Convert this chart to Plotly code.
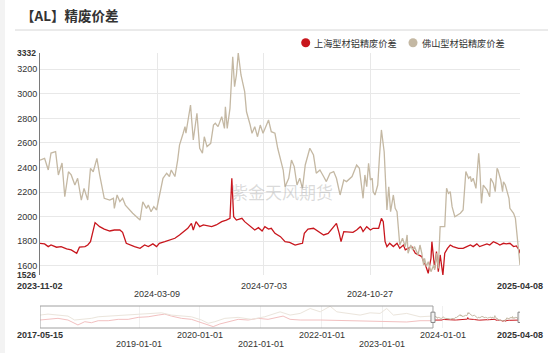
import plotly.graph_objects as go

# ---------------- data ----------------
sh_dates = ["2023-11-02","2023-11-07","2023-11-11","2023-11-14","2023-11-20","2023-11-25","2023-12-01","2023-12-06","2023-12-12","2023-12-15",
"2023-12-21","2023-12-24","2023-12-27","2023-12-30","2024-01-01","2024-01-06","2024-01-11","2024-01-17","2024-01-22","2024-01-28",
"2024-01-31","2024-02-04","2024-02-08","2024-02-13","2024-02-19","2024-02-24","2024-02-28","2024-03-04","2024-03-08","2024-03-11",
"2024-03-17","2024-03-22","2024-03-28","2024-04-02","2024-04-08","2024-04-11","2024-04-15","2024-04-17","2024-04-20","2024-04-24",
"2024-04-28","2024-05-02","2024-05-07","2024-05-12","2024-05-18","2024-05-23","2024-05-27","2024-05-29","2024-05-31","2024-06-03",
"2024-06-09","2024-06-12","2024-06-16","2024-06-20","2024-06-23","2024-06-27","2024-07-01","2024-07-04","2024-07-08","2024-07-11",
"2024-07-15","2024-07-21","2024-07-26","2024-07-31","2024-08-06","2024-08-11","2024-08-14","2024-08-16","2024-08-20","2024-08-26",
"2024-08-31","2024-09-06","2024-09-11","2024-09-17","2024-09-20","2024-09-23","2024-09-25","2024-09-28","2024-10-03","2024-10-08",
"2024-10-12","2024-10-16","2024-10-17","2024-10-19","2024-10-23","2024-10-27","2024-10-30","2024-11-05","2024-11-08","2024-11-10",
"2024-11-12","2024-11-14","2024-11-17","2024-11-21","2024-11-25","2024-11-28","2024-12-02","2024-12-04","2024-12-07","2024-12-11",
"2024-12-15","2024-12-18","2024-12-22","2024-12-24","2024-12-26","2024-12-29","2025-01-01","2025-01-02","2025-01-05","2025-01-07",
"2025-01-09","2025-01-11","2025-01-13","2025-01-14","2025-01-16","2025-01-19","2025-01-22","2025-01-25","2025-01-31","2025-02-05",
"2025-02-09","2025-02-13","2025-02-16","2025-02-20","2025-02-23","2025-02-27","2025-03-03","2025-03-06","2025-03-10","2025-03-14",
"2025-03-17","2025-03-21","2025-03-24","2025-03-28","2025-04-01","2025-04-04","2025-04-07","2025-04-08"]
sh_vals = [1784,1779,1757,1770,1752,1757,1738,1730,1703,1752,
1757,1770,1797,1879,1952,1919,1900,1884,1892,1892,
1873,1784,1770,1757,1743,1770,1757,1779,1757,1784,
1797,1811,1825,1852,1892,1906,1946,1892,1960,1919,
1933,1928,1919,1933,1960,1973,1987,2313,2000,1973,
1987,1960,1933,1911,1892,1911,1884,1919,1900,1906,
1865,1838,1797,1792,1770,1779,1784,1865,1900,1906,
1879,1852,1865,1919,1946,1865,1797,1879,1879,1873,
1892,1919,1911,1879,1919,1892,1906,1906,1987,1960,
1797,1757,1784,1757,1784,1743,1770,1730,1743,1757,
1703,1689,1676,1634,1607,1540,1662,1797,1580,1716,
1553,1689,1540,1526,1703,1743,1770,1757,1743,1743,
1757,1770,1757,1779,1757,1770,1779,1770,1797,1784,
1770,1784,1779,1784,1757,1762,1730,1703]

fs_dates = ["2023-11-02","2023-11-07","2023-11-11","2023-11-14","2023-11-19","2023-11-22","2023-11-26","2023-11-29","2023-12-03","2023-12-06",
"2023-12-10","2023-12-13","2023-12-17","2023-12-20","2023-12-24","2023-12-27","2023-12-30","2024-01-03","2024-01-06","2024-01-09",
"2024-01-11","2024-01-17","2024-01-21","2024-01-22","2024-01-25","2024-01-28","2024-01-31","2024-02-03","2024-02-06","2024-02-11",
"2024-02-19","2024-02-22","2024-02-26","2024-02-28","2024-03-02","2024-03-05","2024-03-08","2024-03-11","2024-03-15","2024-03-19",
"2024-03-22","2024-03-24","2024-03-28","2024-03-31","2024-04-02","2024-04-06","2024-04-08","2024-04-09","2024-04-11","2024-04-14",
"2024-04-17","2024-04-19","2024-04-21","2024-04-24","2024-04-27","2024-04-29","2024-05-02","2024-05-06","2024-05-09","2024-05-11",
"2024-05-14","2024-05-18","2024-05-21","2024-05-22","2024-05-24","2024-05-27","2024-05-30","2024-06-01","2024-06-03","2024-06-05",
"2024-06-08","2024-06-12","2024-06-14","2024-06-18","2024-06-20","2024-06-23","2024-06-26","2024-06-29","2024-07-02","2024-07-05",
"2024-07-08","2024-07-11","2024-07-15","2024-07-18","2024-07-21","2024-07-24","2024-07-26","2024-07-30","2024-08-02","2024-08-05",
"2024-08-08","2024-08-11","2024-08-14","2024-08-17","2024-08-22","2024-08-26","2024-08-29","2024-09-02","2024-09-06","2024-09-09",
"2024-09-13","2024-09-17","2024-09-20","2024-09-24","2024-09-28","2024-10-01","2024-10-07","2024-10-12","2024-10-15","2024-10-17",
"2024-10-19","2024-10-21","2024-10-23","2024-10-25","2024-10-27","2024-10-29","2024-10-30","2024-11-01","2024-11-04","2024-11-06",
"2024-11-08","2024-11-11","2024-11-13","2024-11-14","2024-11-16","2024-11-18","2024-11-21","2024-11-23","2024-11-25","2024-11-26",
"2024-11-28","2024-12-01","2024-12-04","2024-12-06","2024-12-07","2024-12-10","2024-12-12","2024-12-14","2024-12-16","2024-12-18",
"2024-12-20","2024-12-22","2024-12-24","2024-12-25","2024-12-27","2024-12-29","2025-01-01","2025-01-04","2025-01-05","2025-01-07",
"2025-01-09","2025-01-11","2025-01-16","2025-01-18","2025-01-20","2025-01-22","2025-01-24","2025-01-27","2025-02-02","2025-02-05",
"2025-02-08","2025-02-11","2025-02-13","2025-02-14","2025-02-16","2025-02-19","2025-02-22","2025-02-23","2025-02-25","2025-02-27",
"2025-03-03","2025-03-06","2025-03-07","2025-03-10","2025-03-12","2025-03-14","2025-03-15","2025-03-18","2025-03-20","2025-03-21",
"2025-03-23","2025-03-26","2025-03-27","2025-03-28","2025-04-01","2025-04-03","2025-04-05","2025-04-07","2025-04-08"]
fs_vals = [2461,2475,2380,2518,2529,2340,2437,2163,2366,2340,
2258,2313,2136,2231,2136,2394,2366,2475,2340,2231,
2150,2136,2150,2068,2177,2123,2150,2095,2068,2028,
1973,2122,2068,2095,2041,2082,2055,2177,2313,2354,
2327,2380,2327,2461,2583,2679,2733,2679,2787,2909,
2624,2747,2842,2557,2518,2651,2570,2597,2746,2760,
2733,2814,2719,2895,2719,2882,3302,3058,3153,3332,
3153,3017,2854,2746,2679,2733,2651,2746,2679,2733,
2787,2692,2679,2557,2461,2380,2244,2313,2461,2408,
2258,2313,2231,2421,2557,2502,2354,2380,2327,2286,
2354,2367,2313,2177,2299,2286,2327,2421,2394,2285,
2150,2340,2244,2435,2299,2313,2204,2177,2258,2502,
2706,2529,2258,2055,2244,2041,2177,2068,2041,1919,
1770,1825,1757,1852,1703,1770,1730,1757,1716,1689,
1770,1703,1607,1662,1594,1634,1553,1607,1567,1703,
1580,1919,1919,2231,2190,2204,2082,2000,2028,2055,
2367,2313,2327,2285,2313,2231,2516,2421,2109,2258,
2218,2163,2313,2272,2204,2394,2380,2299,2204,2285,
2258,2163,2150,2068,2028,1987,1825,1730,1607]

# history shown in the zoom slider (rough reading of the overview)
hist_sh_dates = ["2017-05-15","2017-07-02","2017-08-31","2017-10-30","2017-12-09","2017-12-29","2018-02-08","2018-03-20","2018-04-30","2018-06-29",
"2018-08-28","2018-10-27","2018-12-26","2019-02-24","2019-04-25","2019-06-04","2019-07-14","2019-09-12","2019-11-11","2020-01-11",
"2020-02-20","2020-03-21","2020-04-30","2020-06-19","2020-08-18","2020-10-17","2020-12-16","2021-02-14","2021-04-15","2021-05-15",
"2021-06-26","2021-08-26","2021-12-24","2022-06-02","2022-10-20","2023-05-28","2023-08-16","2023-10-26"]
hist_sh_vals = [1800,1943,2147,1800,1127,780,1453,1249,1657,1657,
1943,1943,2351,2473,2820,3024,2616,2147,1943,1249,
780,433,984,1453,1943,1800,2147,1943,2473,2616,
1943,1800,1800,1657,1596,1392,1657,1657]
hist_fs_dates = ["2017-05-15","2017-07-02","2017-08-31","2017-10-30","2017-12-09","2018-01-18","2018-03-20","2018-04-30","2018-06-29","2018-08-28",
"2018-10-27","2018-12-26","2019-03-16","2019-05-15","2019-07-14","2019-09-12","2019-11-11","2020-01-11","2020-02-20","2020-03-31",
"2020-05-30","2020-08-18","2020-11-06","2021-01-25","2021-03-26","2021-04-27","2021-05-15","2021-06-26","2021-08-26","2021-10-25",
"2021-12-24","2022-02-22","2022-04-03","2022-06-02","2022-08-21","2022-10-20","2022-12-19","2023-01-28","2023-03-09","2023-05-28",
"2023-08-16","2023-10-26"]
hist_fs_vals = [2820,3024,2820,2616,1800,1943,2147,2473,2616,2616,
2820,3024,3167,3289,2820,2616,2473,1800,1127,1453,
2147,2351,1943,2473,3167,3493,3289,2820,3167,4187,
3493,4656,3493,3167,2820,3289,3167,4187,2820,3167,
2473,2616]

series_names = ["上海型材铝精废价差", "佛山型材铝精废价差"]
main_ticks = ["2023-11-02", "2024-03-09", "2024-07-03", "2024-10-27", "2025-04-08"]
slider_ticks = ["2017-05-15", "2019-01-01", "2020-01-01", "2021-01-01", "2022-01-01", "2023-01-01", "2024-01-01", "2025-04-08"]
y_min, y_max = 1526, 3332
y_grid = [1600, 1800, 2000, 2200, 2400, 2600, 2800, 3000, 3200]

# ---------------- style ----------------
RED = "#c8161d"
BEIGE = "#c4b8a3"
RED_FAINT = "#f2c0c0"
BEIGE_FAINT = "#ebe5dc"
NUMF = "Liberation Sans, Arial, sans-serif"
CJK = "Noto Sans CJK SC, sans-serif"
W, H, ML, MR = 550, 353, 40, 30
PW = W - ML - MR

def px(xp):
    return (xp - ML) / PW

def py(yp):
    return (H - yp) / H

fig = go.Figure()
fig.add_trace(go.Scatter(x=sh_dates, y=sh_vals, mode="lines", line=dict(color=RED, width=1.3), name=series_names[0], xaxis="x", yaxis="y"))
fig.add_trace(go.Scatter(x=fs_dates, y=fs_vals, mode="lines", line=dict(color=BEIGE, width=1.3), name=series_names[1], xaxis="x", yaxis="y"))
# slider overview
fig.add_trace(go.Scatter(x=hist_sh_dates, y=hist_sh_vals, mode="lines", line=dict(color=RED_FAINT, width=1), xaxis="x2", yaxis="y2"))
fig.add_trace(go.Scatter(x=hist_fs_dates, y=hist_fs_vals, mode="lines", line=dict(color=BEIGE_FAINT, width=1), xaxis="x2", yaxis="y2"))
fig.add_trace(go.Scatter(x=sh_dates, y=sh_vals, mode="lines", line=dict(color=RED, width=1), xaxis="x2", yaxis="y2"))
fig.add_trace(go.Scatter(x=fs_dates, y=fs_vals, mode="lines", line=dict(color=BEIGE, width=1), xaxis="x2", yaxis="y2"))

fig.update_layout(
    width=W, height=H, margin=dict(l=ML, r=MR, t=0, b=0),
    paper_bgcolor="white", plot_bgcolor="white", showlegend=False,
    xaxis=dict(domain=[0, 1], anchor="y", type="date", range=[main_ticks[0], main_ticks[-1]],
               tickvals=main_ticks[1:-1], showticklabels=False, showgrid=True, gridcolor="#e8e8e8",
               zeroline=False, showline=False, ticks=""),
    yaxis=dict(domain=[py(275), py(53)], anchor="x", range=[y_min, y_max], tickvals=y_grid,
               showgrid=True, gridcolor="#e8e8e8",
               showline=True, linecolor="#7a7a7a", linewidth=1, ticks="", zeroline=False,
               tickfont=dict(family=NUMF, size=9, color="#333")),
    xaxis2=dict(domain=[0, 1], anchor="y2", type="date", range=[slider_ticks[0], slider_ticks[-1]],
                tickvals=slider_ticks[1:-1], showticklabels=False, showgrid=True, gridcolor="#f0f0f0",
                zeroline=False, showline=False, ticks=""),
    yaxis2=dict(domain=[py(328), py(306)], anchor="x2", range=[150, 4700], showgrid=False,
                showticklabels=False, zeroline=False, showline=False, ticks=""),
)

shapes = [
    dict(type="rect", xref="paper", yref="paper", x0=px(0), x1=px(5), y0=0, y1=1, fillcolor="#f3f3f3", line=dict(width=0), layer="below"),
    dict(type="line", xref="paper", yref="paper", x0=px(15), x1=px(548), y0=py(30), y1=py(30), line=dict(color="#d6d6d6", width=1)),
    dict(type="rect", xref="x2", yref="y2 domain", x0=slider_ticks[0], x1=main_ticks[0], y0=0, y1=1,
         line=dict(color="#a0a0a0", width=1), fillcolor="rgba(0,0,0,0)"),
]
for d in [main_ticks[0], main_ticks[-1]]:
    shapes.append(dict(type="rect", xref="x2", xsizemode="pixel", xanchor=d, x0=-2, x1=2,
                       yref="y2 domain", y0=0.25, y1=0.72, fillcolor="#f2f2f2", line=dict(color="#8a8a8a", width=1)))
for cx, col in [(305.7, RED), (413, BEIGE)]:
    shapes.append(dict(type="circle", xref="paper", xsizemode="pixel", xanchor=px(cx), x0=-4.5, x1=4.5,
                       yref="paper", ysizemode="pixel", yanchor=py(42.7), y0=-4.5, y1=4.5,
                       fillcolor=col, line=dict(width=0)))
fig.update_layout(shapes=shapes)

ann = [
    dict(text="<b>【AL】精废价差</b>", xref="paper", yref="paper", x=px(19), y=py(15), xanchor="left", yanchor="middle",
         showarrow=False, font=dict(family=CJK, size=13.5, color="#333")),
    dict(text=series_names[0], xref="paper", yref="paper", x=px(312), y=py(42.7), xanchor="left", yanchor="middle",
         showarrow=False, font=dict(family=CJK, size=9.2, color="#333")),
    dict(text=series_names[1], xref="paper", yref="paper", x=px(420), y=py(42.7), xanchor="left", yanchor="middle",
         showarrow=False, font=dict(family=CJK, size=9.2, color="#333")),
    dict(text="紫金天风期货", xref="paper", yref="paper", x=px(281.5), y=py(191.7), xanchor="center", yanchor="middle",
         showarrow=False, font=dict(family=CJK, size=17, color="rgba(150,150,150,0.35)")),
    # axis extreme labels (min / max of the value axis)
    dict(text="<b>%d</b>" % y_max, xref="paper", yref="y", x=px(37.5), y=y_max, xanchor="right", yanchor="middle",
         showarrow=False, font=dict(family=NUMF, size=8.5, color="#333")),
    dict(text="<b>%d</b>" % y_min, xref="paper", yref="y", x=px(37.5), y=y_min, xanchor="right", yanchor="middle",
         showarrow=False, font=dict(family=NUMF, size=8.5, color="#333")),
]
for i, d in enumerate(main_ticks):
    bold = i in (0, len(main_ticks) - 1)
    ann.append(dict(text=("<b>%s</b>" % d) if bold else d, xref="x", yref="paper", x=d,
                    y=py(285.5) if i % 2 == 0 else py(294), xanchor="center", yanchor="middle", showarrow=False,
                    font=dict(family=NUMF, size=9, color="#333")))
for i, d in enumerate(slider_ticks):
    bold = i in (0, len(slider_ticks) - 1)
    row_top = (i % 2 == 0) or i == len(slider_ticks) - 1
    ann.append(dict(text=("<b>%s</b>" % d) if bold else d, xref="x2", yref="paper", x=d,
                    y=py(335) if row_top else py(344), xanchor="center", yanchor="middle", showarrow=False,
                    font=dict(family=NUMF, size=9, color="#333")))
fig.update_layout(annotations=ann)

fig.write_html("out.html")
